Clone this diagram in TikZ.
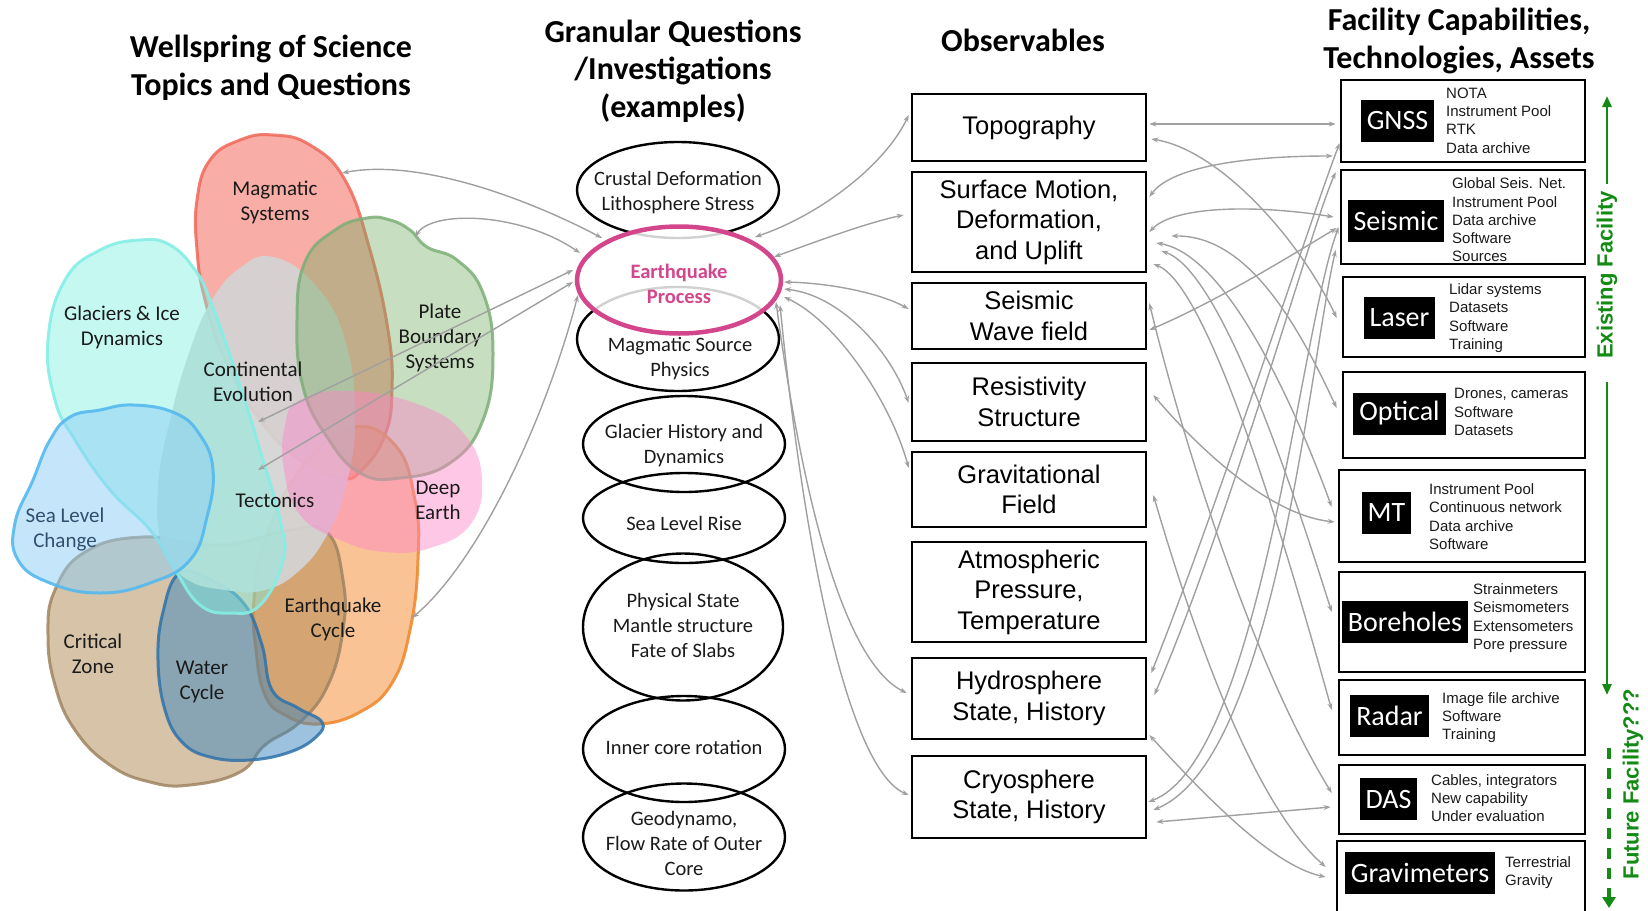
\documentclass[tikz,border=0pt]{standalone}
\usepackage{fontspec}
\setmainfont{Carlito}
\newfontfamily\arialf{Liberation Sans}
\usetikzlibrary{shapes.geometric,arrows.meta,calc}

\definecolor{magR}{HTML}{F04A3A}
\definecolor{magRb}{HTML}{F0685A}
\definecolor{contG}{HTML}{D4D4D4}
\definecolor{glacC}{HTML}{80F0E2}
\definecolor{glacCb}{HTML}{86EEE6}
\definecolor{plateG}{HTML}{72AE62}
\definecolor{plateGb}{HTML}{7DAE78}
\definecolor{deepP}{HTML}{FF82C8}
\definecolor{quakeO}{HTML}{F59240}
\definecolor{quakeOb}{HTML}{F08A32}
\definecolor{seaB}{HTML}{8CCEF6}
\definecolor{seaBb}{HTML}{55B9EE}
\definecolor{critT}{HTML}{B08850}
\definecolor{critTb}{HTML}{A08462}
\definecolor{waterB}{HTML}{3B86C0}
\definecolor{waterBb}{HTML}{2F72AA}
\definecolor{eqpink}{HTML}{D4468C}
\definecolor{linkgray}{HTML}{A0A0A0}
\definecolor{facgreen}{HTML}{138A13}
\definecolor{inkdark}{HTML}{1A1A1A}

\newcommand\fsz[2]{\fontsize{#1}{#2}\selectfont}

\begin{document}
\begin{tikzpicture}[x=1pt,y=-1pt,
  >={Stealth[length=7pt,width=5pt]},
  title/.style={font=\bfseries\fsz{32}{37.5}, align=center, text=black},
  blobtxt/.style={font=\fsz{21}{25}, align=center, text=inkdark},
  qell/.style={ellipse, draw=black, line width=2.4pt, minimum width=202pt, inner sep=0pt},
  qtxt/.style={font=\fsz{20.5}{25}, align=center, text=inkdark},
  obs/.style={draw=black, line width=2.6pt, minimum width=234pt, inner sep=0pt,
    font=\arialf\fsz{25.5}{30.5}, align=center},
  fac/.style={draw=black, line width=2.6pt, inner sep=0pt},
  flabel/.style={fill=black, text=white, font=\fsz{28}{30}, inner xsep=6pt, inner ysep=0pt,
    minimum height=42pt},
  flist/.style={font=\arialf\fsz{15}{18.3}, align=left, anchor=west, inner sep=0pt, text=inkdark},
  link/.style={draw=linkgray, line width=1.4pt, <->},
  gtext/.style={font=\arialf\bfseries\fsz{22}{24}, text=facgreen, inner sep=0pt},
  gline/.style={draw=facgreen, line width=2.6pt}
]
\useasboundingbox (0,0) rectangle (1648,910);

% ---------------- titles ----------------
\node[title] (tWell) at (271,68) {Wellspring of Science\\Topics and Questions};
\node[title] (tGran) at (673,71) {Granular Questions\\/Investigations\\(examples)};
\node[title] (tObs) at (1023,40) {Observables};
\node[title] (tFac) at (1459,41) {Facility Capabilities,\\Technologies, Assets};

% ---------------- science topic blobs ----------------
% Magmatic Systems
\filldraw[fill=magR, fill opacity=.45, draw=magRb, draw opacity=.85, line width=3pt]
  plot[smooth cycle, tension=.75] coordinates {(273,135) (240,140) (210,160) (197,200) (197,250)
  (205,300) (225,360) (260,420) (300,460) (340,478) (362,470) (385,435) (392,390) (388,330)
  (370,250) (345,180) (310,145)};
% Earthquake Cycle
\filldraw[fill=quakeO, fill opacity=.55, draw=quakeOb, draw opacity=.9, line width=3pt]
  plot[smooth cycle, tension=.75] coordinates {(350,428) (395,445) (415,500) (418,560) (410,630)
  (392,683) (360,712) (318,724) (285,715) (265,695) (256,650) (254,600) (265,540) (300,470)};
% Critical Zone
\filldraw[fill=critT, fill opacity=.5, draw=critTb, draw opacity=.85, line width=3pt]
  plot[smooth cycle, tension=.75] coordinates {(143,537) (220,545) (290,530) (327,532) (343,580)
  (343,630) (328,685) (300,722) (265,745) (240,772) (190,785) (150,782) (110,765) (75,730)
  (55,685) (48,635) (55,590) (85,552)};
% Water Cycle
\filldraw[fill=waterB, fill opacity=.5, draw=waterBb, draw opacity=.85, line width=3pt]
  plot[smooth cycle, tension=.7] coordinates {(180,573) (215,582) (245,605) (262,645) (272,690)
  (298,708) (322,722) (316,737) (290,752) (250,760) (210,757) (182,742) (165,710) (158,660)
  (163,612)};
% Continental Evolution / Tectonics
\fill[fill=contG, fill opacity=.93]
  plot[smooth cycle, tension=.75] coordinates {(273,257) (240,268) (212,300) (190,350) (170,420)
  (158,487) (162,545) (185,578) (225,590) (265,590) (300,570) (327,535) (345,490) (355,420)
  (345,340) (315,285)};
% Glaciers & Ice Dynamics
\filldraw[fill=glacC, fill opacity=.45, draw=glacCb, draw opacity=.9, line width=3pt]
  plot[smooth cycle, tension=.75] coordinates {(140,240) (100,250) (65,280) (48,340) (55,400)
  (75,440) (110,490) (150,530) (175,570) (200,605) (230,613) (260,605) (283,560) (280,520)
  (260,450) (235,370) (210,300) (195,270) (170,245)};
% Plate Boundary Systems
\filldraw[fill=plateG, fill opacity=.4, draw=plateGb, draw opacity=.85, line width=3pt]
  plot[smooth cycle, tension=.75] coordinates {(367,218) (335,230) (305,262) (297,320) (303,387)
  (327,437) (360,473) (400,478) (450,463) (483,420) (493,353) (483,293) (457,260) (427,247)
  (410,230) (390,220)};
% Deep Earth
\fill[fill=deepP, fill opacity=.45]
  plot[smooth cycle, tension=.75] coordinates {(300,400) (350,391) (420,405) (465,435) (482,480)
  (470,525) (430,548) (385,552) (340,540) (300,515) (284,470) (285,425)};
% Sea Level Change
\filldraw[fill=seaB, fill opacity=.5, draw=seaBb, draw opacity=.9, line width=3pt]
  plot[smooth cycle, tension=.75] coordinates {(133,405) (100,410) (70,417) (50,440) (33,480)
  (15,523) (18,560) (50,583) (100,593) (150,583) (190,560) (207,517) (213,470) (200,435)
  (175,413)};

% topic labels
\node[blobtxt] (lMag) at (275,202) {Magmatic\\Systems};
\node[blobtxt] (lPlate) at (440,338) {Plate\\Boundary\\Systems};
\node[blobtxt] (lGlac) at (122,327) {Glaciers \& Ice\\Dynamics};
\node[blobtxt] (lCont) at (253,382) {Continental\\Evolution};
\node[blobtxt] (lTect) at (275,500) {Tectonics};
\node[blobtxt] (lDeep) at (438,500) {Deep\\Earth};
\node[blobtxt, text={rgb,255:red,47;green,79;blue,111}] (lSea) at (65,530) {Sea Level\\Change};
\node[blobtxt] (lCrit) at (93,654) {Critical\\Zone};
\node[blobtxt] (lWater) at (202,682) {Water\\Cycle};
\node[blobtxt] (lQuake) at (333,619) {Earthquake\\Cycle};

% arrow ends on the topic blobs
\coordinate (magE) at (342,173);
\coordinate (plateE) at (415,237);
\coordinate (contE) at (258,422);
\coordinate (tectE) at (258,470);
\coordinate (quakeE) at (412,618);

% ---------------- granular questions ----------------
\node[qell, minimum height=96pt] (crust) at (678,190) {};
\node[qtxt] (crustT) at (678,193) {Crustal Deformation\\Lithosphere Stress};
\node[qell, minimum height=104pt] (magsrc) at (678,339) {};
\node[qtxt] (magsrcT) at (680,359) {Magmatic Source\\Physics};
\node[qell, minimum height=107pt, minimum width=204pt, draw=eqpink, line width=4.5pt,
  fill=white, fill opacity=.82] (eq) at (679,280) {};
\node[qtxt, text=eqpink, font=\bfseries\fsz{20.5}{25}] (eqT) at (679,284) {Earthquake\\Process};
\node[qell, minimum height=96pt] (glacq) at (684,444) {};
\node[qtxt] (glacqT) at (684,445.5) {Glacier History and\\Dynamics};
\node[qell, minimum height=90pt] (seaq) at (684,518) {};
\node[qtxt] (seaqT) at (684,523) {Sea Level Rise};
\node[qell, minimum height=147pt, minimum width=200pt] (phys) at (683,627) {};
\node[qtxt] (physT) at (683,625) {Physical State\\Mantle structure\\Fate of Slabs};
\node[qell, minimum height=106pt] (inner) at (684,749) {};
\node[qtxt] (innerT) at (684,747) {Inner core rotation};
\node[qell, minimum height=107pt] (geo) at (684,837) {};
\node[qtxt] (geoT) at (684,843) {Geodynamo,\\Flow Rate of Outer\\Core};

% ---------------- observables ----------------
\node[obs, minimum height=67pt] (topo) at (1029,127.5) {Topography};
\node[obs, minimum height=100pt] (surf) at (1029,222) {Surface Motion,\\Deformation,\\and Uplift};
\node[obs, minimum height=66pt] (seiswf) at (1029,316) {Seismic\\Wave field};
\node[obs, minimum height=78pt] (resist) at (1029,402) {Resistivity\\Structure};
\node[obs, minimum height=75pt] (gravf) at (1029,489.5) {Gravitational\\Field};
\node[obs, minimum height=100pt] (atmos) at (1029,592) {Atmospheric\\Pressure,\\Temperature};
\node[obs, minimum height=81pt] (hydro) at (1029,698.5) {Hydrosphere\\State, History};
\node[obs, minimum height=82pt] (cryo) at (1029,797) {Cryosphere\\State, History};

% ---------------- facility capabilities ----------------
\node[fac, minimum width=244pt, minimum height=82pt] (gnss) at (1463,121) {};
\node[fac, minimum width=244pt, minimum height=94pt] (seis) at (1463,217) {};
\node[fac, minimum width=242pt, minimum height=80pt] (laser) at (1464,317) {};
\node[fac, minimum width=242pt, minimum height=86pt] (optical) at (1464,415) {};
\node[fac, minimum width=246pt, minimum height=92pt] (mt) at (1462,516) {};
\node[fac, minimum width=246pt, minimum height=100pt] (bore) at (1462,622) {};
\node[fac, minimum width=246pt, minimum height=75pt] (radar) at (1462,717.5) {};
\node[fac, minimum width=246pt, minimum height=69pt] (das) at (1462,799.5) {};
\node[fac, minimum width=248pt, minimum height=74pt] (gravim) at (1461,878) {};

\node[flabel] (gnssL) at (1397.5,121) {GNSS};
\node[flabel] (seisL) at (1396,221) {Seismic};
\node[flabel] (laserL) at (1399.5,317.5) {Laser};
\node[flabel] (opticalL) at (1399.5,413.5) {Optical};
\node[flabel] (mtL) at (1386.5,513) {MT};
\node[flabel] (boreL) at (1405,621.5) {Boreholes};
\node[flabel] (radarL) at (1389.5,715.5) {Radar};
\node[flabel] (dasL) at (1388.5,799) {DAS};
\node[flabel] (gravimL) at (1420,872.5) {Gravimeters};

\node[flist] (gnssT) at (1446,120.5) {NOTA\\Instrument Pool\\RTK\\Data archive};
\node[flist] (seisT) at (1452,220) {Global Seis. Net.\\Instrument Pool\\Data archive\\Software\\Sources};
\node[flist] (laserT) at (1449,318) {Lidar systems\\Datasets\\Software\\Training};
\node[flist] (opticalT) at (1454,412) {Drones, cameras\\Software\\Datasets};
\node[flist] (mtT) at (1429,516.5) {Instrument Pool\\Continuous network\\Data archive\\Software};
\node[flist] (boreT) at (1473,618) {Strainmeters\\Seismometers\\Extensometers\\Pore pressure};
\node[flist] (radarT) at (1442,717.5) {Image file archive\\Software\\Training};
\node[flist] (dasT) at (1431,798) {Cables, integrators\\New capability\\Under evaluation};
\node[flist] (gravimT) at (1505,872.5) {Terrestrial\\Gravity};

% ---------------- existing / future facility arrows ----------------
\node[gtext, rotate=90] (exist) at (1607,275) {Existing Facility};
\coordinate (exTop) at (1607,96);
\coordinate (exUp) at (1607,184);
\coordinate (exMid) at (1607,382);
\coordinate (exLow) at (1607,695);
\draw[gline, -{Triangle[length=11pt,width=9pt]}] (exUp) -- (exTop);
\draw[gline, -{Triangle[length=11pt,width=9pt]}] (exMid) -- (exLow);

\node[gtext, rotate=90] (future) at (1633,784) {Future Facility???};
\coordinate (fuTop) at (1609,748);
\coordinate (fuBot) at (1609,908);
\draw[gline, line width=3.6pt, dash pattern=on 11pt off 9pt, -{Triangle[length=11pt,width=13pt]}]
  (fuTop) -- (fuBot);

% ---------------- topics <-> earthquake process ----------------
\draw[link] ($(eq.center)+(-77,-42)$) .. controls (530,200) and (420,158) .. (magE);
\draw[link] ($(eq.center)+(-99,-27)$) .. controls (520,212) and (432,210) .. (plateE);
\draw[link] ($(eq.center)+(-106,-10)$) -- (contE);
\draw[link] ($(eq.center)+(-106,2)$) -- (tectE);
\draw[link] ($(eq.center)+(-101,15)$) .. controls (545,420) and (480,560) .. (quakeE);

% ---------------- earthquake process <-> observables ----------------
\draw[link] ($(eq.center)+(76,-43)$) .. controls (820,215) and (885,165) .. ($(topo.west)+(-2,-12.5)$);
\draw[link] ($(eq.center)+(95,-23)$) .. controls (820,240) and (870,222) .. ($(surf.west)+(-7,-7)$);
\draw[link] ($(eq.center)+(105,2)$) .. controls (830,283) and (880,293) .. ($(seiswf.west)+(-2,-7)$);
\draw[link] ($(eq.center)+(105,9)$) .. controls (840,295) and (890,350) .. ($(resist.west)+(-2,1)$);
\draw[link] ($(eq.center)+(105,17)$) .. controls (835,320) and (890,400) .. ($(gravf.west)+(-2,-21.5)$);
\draw[link] ($(eq.center)+(97,22)$) .. controls (800,480) and (840,660) .. ($(hydro.west)+(-4,-5.5)$);
\draw[link] ($(eq.center)+(101,25)$) .. controls (805,560) and (850,770) .. ($(cryo.west)+(-2,-2)$);

% ---------------- observables <-> facilities ----------------
\draw[link] ($(topo.east)+(2,-3.5)$) -- ($(gnss.west)+(-4,3)$);
\draw[link] ($(topo.east)+(4,11.5)$) .. controls (1220,150) and (1300,240) .. ($(laser.west)+(-5,1)$);
\draw[link] ($(surf.east)+(2,-25)$) .. controls (1170,168) and (1240,156) .. ($(gnss.west)+(-7,35)$);
\draw[link] ($(surf.east)+(2,10)$) .. controls (1175,205) and (1260,205) .. ($(seis.west)+(-6,0)$);
\draw[link] ($(surf.east)+(24,14)$) .. controls (1250,235) and (1300,330) .. ($(optical.west)+(-5,-7)$);
\draw[link] ($(surf.east)+(9,21)$) .. controls (1230,255) and (1300,420) .. ($(mt.west)+(-6,-9)$);
\draw[link] ($(surf.east)+(14,29)$) .. controls (1220,270) and (1290,480) .. ($(bore.west)+(-6,-10)$);
\draw[link] ($(surf.east)+(6,42)$) .. controls (1210,285) and (1290,560) .. ($(radar.west)+(-6,-7.5)$);
\draw[link] ($(seiswf.east)+(2,14)$) .. controls (1220,300) and (1300,250) .. ($(seis.west)+(-3,11)$);
\draw[link] ($(seiswf.east)+(2,-13)$) .. controls (1180,430) and (1250,660) .. ($(das.west)+(-6,-6.5)$);
\draw[link] ($(resist.east)+(6,-7)$) .. controls (1200,450) and (1270,515) .. ($(mt.west)+(-3,6)$);
\draw[link] ($(gravf.east)+(6,5.5)$) .. controls (1190,620) and (1250,800) .. ($(gravim.west)+(-10,-11)$);
\draw[link] ($(hydro.east)+(4,-25.5)$) .. controls (1220,500) and (1310,220) .. ($(gnss.west)+(0,22)$);
\draw[link] ($(hydro.east)+(7,-3.5)$) .. controls (1230,520) and (1310,230) .. ($(seis.west)+(-4,-45)$);
\draw[link] ($(hydro.east)+(2,36.5)$) .. controls (1200,790) and (1270,865) .. ($(gravim.west)+(-10,-1)$);
\draw[link] ($(cryo.east)+(1,5)$) .. controls (1260,760) and (1300,330) .. ($(seis.west)+(-1,10)$);
\draw[link] ($(cryo.east)+(6,13)$) .. controls (1275,760) and (1310,360) .. ($(seis.west)+(-4,33)$);
\draw[link] ($(cryo.east)+(9,25)$) -- ($(das.west)+(-7,7.5)$);
\end{tikzpicture}
\end{document}
